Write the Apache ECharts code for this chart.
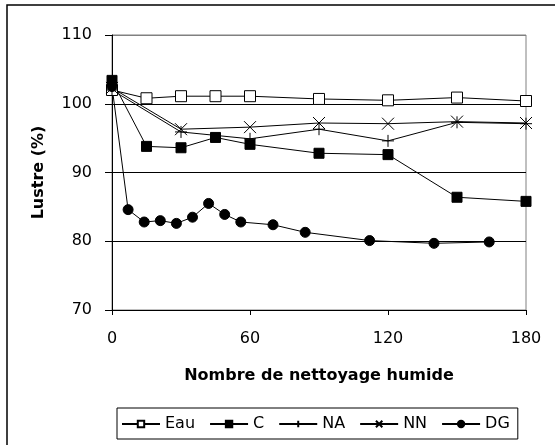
<!DOCTYPE html>
<html><head><meta charset="utf-8">
<script src="https://cdn.jsdelivr.net/npm/echarts@6/dist/echarts.min.js"></script>
<style>html,body{margin:0;padding:0;background:#fff}#c{width:555px;height:445px}</style>
</head><body><div id="c"></div>
<script>
const xTicks = [0, 60, 120, 180];
const yTicks = [70, 80, 90, 100, 110];
const seriesNames = ['Eau', 'C', 'NA', 'NN', 'DG'];
const eauX = [0, 15, 30, 45, 60, 90, 120, 150, 180];
const eauY = [102.0, 100.8, 101.1, 101.1, 101.1, 100.7, 100.5, 100.9, 100.4];
const cX = [0, 15, 30, 45, 60, 90, 120, 150, 180];
const cY = [103.4, 93.8, 93.6, 95.1, 94.1, 92.8, 92.6, 86.4, 85.8];
const naX = [0, 30, 60, 90, 120, 150, 180];
const naY = [102.0, 95.9, 94.9, 96.3, 94.6, 97.3, 97.1];
const nnX = [0, 30, 60, 90, 120, 150, 180];
const nnY = [102.3, 96.3, 96.6, 97.2, 97.1, 97.4, 97.2];
const dgX = [0, 7, 14, 21, 28, 35, 42, 49, 56, 70, 84, 112, 140, 164];
const dgY = [102.5, 84.6, 82.8, 83.0, 82.6, 83.5, 85.5, 83.9, 82.8, 82.4, 81.3, 80.1, 79.7, 79.9];

const FONT = 'DejaVu Sans';
const pairs = (xs, ys) => xs.map((x, i) => [x, ys[i]]);
const chart = echarts.init(document.getElementById('c'), null, {renderer: 'canvas'});

function mk(name, xs, ys, symbol, size, fill) {
  return {
    name: name, type: 'line', data: pairs(xs, ys),
    symbol: symbol, symbolSize: size, showSymbol: true,
    lineStyle: {color: '#000', width: 1},
    itemStyle: {color: fill, borderColor: '#000', borderWidth: 1},
    emphasis: {disabled: true},
    animation: false
  };
}

chart.setOption({
  animation: false,
  backgroundColor: '#fff',
  graphic: [{
    type: 'rect', silent: true,
    shape: {x: 7, y: 5, width: 560, height: 460},
    style: {fill: 'none', stroke: '#000', lineWidth: 1.5}
  }],
  grid: {left: 112, right: 29, top: 35, bottom: 135, show: true,
         borderColor: '#808080', borderWidth: 1, backgroundColor: 'transparent',
         containLabel: false, outerBoundsMode: 'none'},
  xAxis: {
    type: 'value', min: xTicks[0], max: xTicks[xTicks.length - 1], interval: xTicks[1] - xTicks[0],
    name: 'Nombre de nettoyage humide', nameLocation: 'middle', nameGap: 58,
    nameTextStyle: {fontFamily: FONT, fontSize: 16, fontWeight: 'bold', color: '#000'},
    axisLine: {show: true, onZero: false, lineStyle: {color: '#000', width: 1}},
    axisTick: {show: true, inside: false, length: 5, lineStyle: {color: '#000'}},
    axisLabel: {margin: 21, fontFamily: FONT, fontSize: 16, color: '#000'},
    splitLine: {show: false}
  },
  yAxis: {
    type: 'value', min: yTicks[0], max: yTicks[yTicks.length - 1], interval: yTicks[1] - yTicks[0],
    name: 'Lustre (%)', nameLocation: 'middle', nameGap: 65, nameRotate: 90,
    nameTextStyle: {fontFamily: FONT, fontSize: 16, fontWeight: 'bold', color: '#000'},
    axisLine: {show: true, onZero: false, lineStyle: {color: '#000', width: 1}},
    axisTick: {show: true, inside: false, length: 7, lineStyle: {color: '#000'}},
    axisLabel: {margin: 20, fontFamily: FONT, fontSize: 16, color: '#000'},
    splitLine: {show: true, lineStyle: {color: ['#000', '#000', '#000', '#000', '#808080'], width: 1}}
  },
  legend: {
    data: seriesNames, left: 117, top: 408, orient: 'horizontal',
    itemWidth: 38, itemHeight: 8, itemGap: 14,
    borderColor: '#000', borderWidth: 1, padding: [8, 8, 7, 4],
    textStyle: {fontFamily: FONT, fontSize: 16, color: '#000'},
    selectedMode: false
  },
  series: [
    mk(seriesNames[0], eauX, eauY, 'rect', 11, '#fff'),
    mk(seriesNames[1], cX, cY, 'rect', 10, '#000'),
    mk(seriesNames[2], naX, naY, 'path://M0,6L12,6M6,0L6,12', 12, '#000'),
    mk(seriesNames[3], nnX, nnY, 'path://M0,0L12,12M12,0L0,12', 12, '#000'),
    mk(seriesNames[4], dgX, dgY, 'circle', 10, '#000')
  ]
});
</script></body></html>
